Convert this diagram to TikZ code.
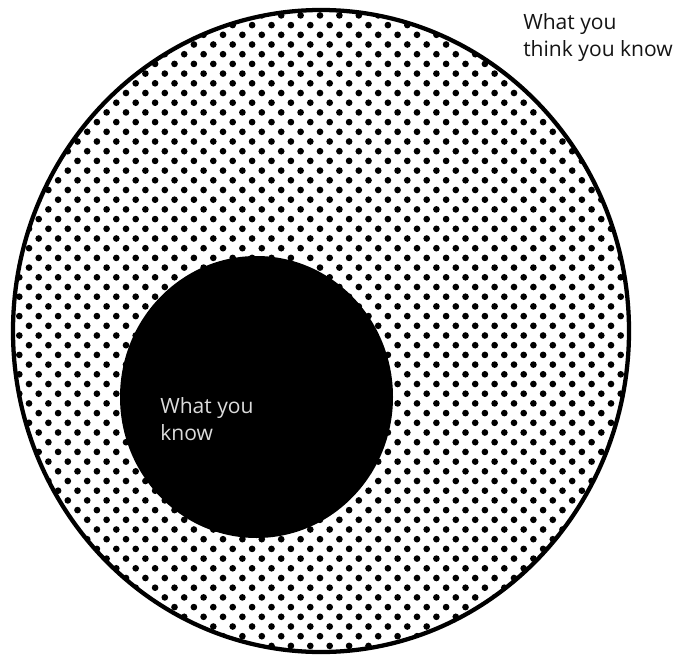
\documentclass[tikz,border=0pt]{standalone}
\usepackage{fontspec}
\setmainfont{Open Sans}
\usetikzlibrary{shapes.geometric}
\definecolor{lighttext}{HTML}{DCDCDC}
\definecolor{darktext}{HTML}{141414}
\begin{document}
\begin{tikzpicture}[x=0.75pt,y=-0.75pt,
  labeltext/.style={inner sep=0pt,align=left,font=\fontsize{15.8}{20.5}\selectfont},
  dotfill/.style={fill=black}]
\useasboundingbox (0,0) rectangle (678,656);
% dotted outer region
\begin{scope}
\clip (321,331) ellipse [x radius=308, y radius=321];
\foreach \k in {-29,...,38}{
  \foreach \m in {-1,...,32}{
    \fill[dotfill] ({29+19.4*\m-9.7*mod(abs(\k),2)},{287+9.7*\k}) circle [radius=2.5pt];
  }
}
\end{scope}
\node[draw=black,line width=3.2pt,ellipse,minimum width=462pt,minimum height=481.5pt,inner sep=0pt] (outer) at (321,331) {};
\node[fill=black,ellipse,minimum width=204.75pt,minimum height=211.5pt,inner sep=0pt] (inner) at (256.5,397) {};
\node[labeltext,text=lighttext,anchor=north west] (known) at (160,397) {What you\\know};
\node[labeltext,text=darktext,anchor=north west] (think) at (523,13) {What you\\think you know};
\end{tikzpicture}
\end{document}
